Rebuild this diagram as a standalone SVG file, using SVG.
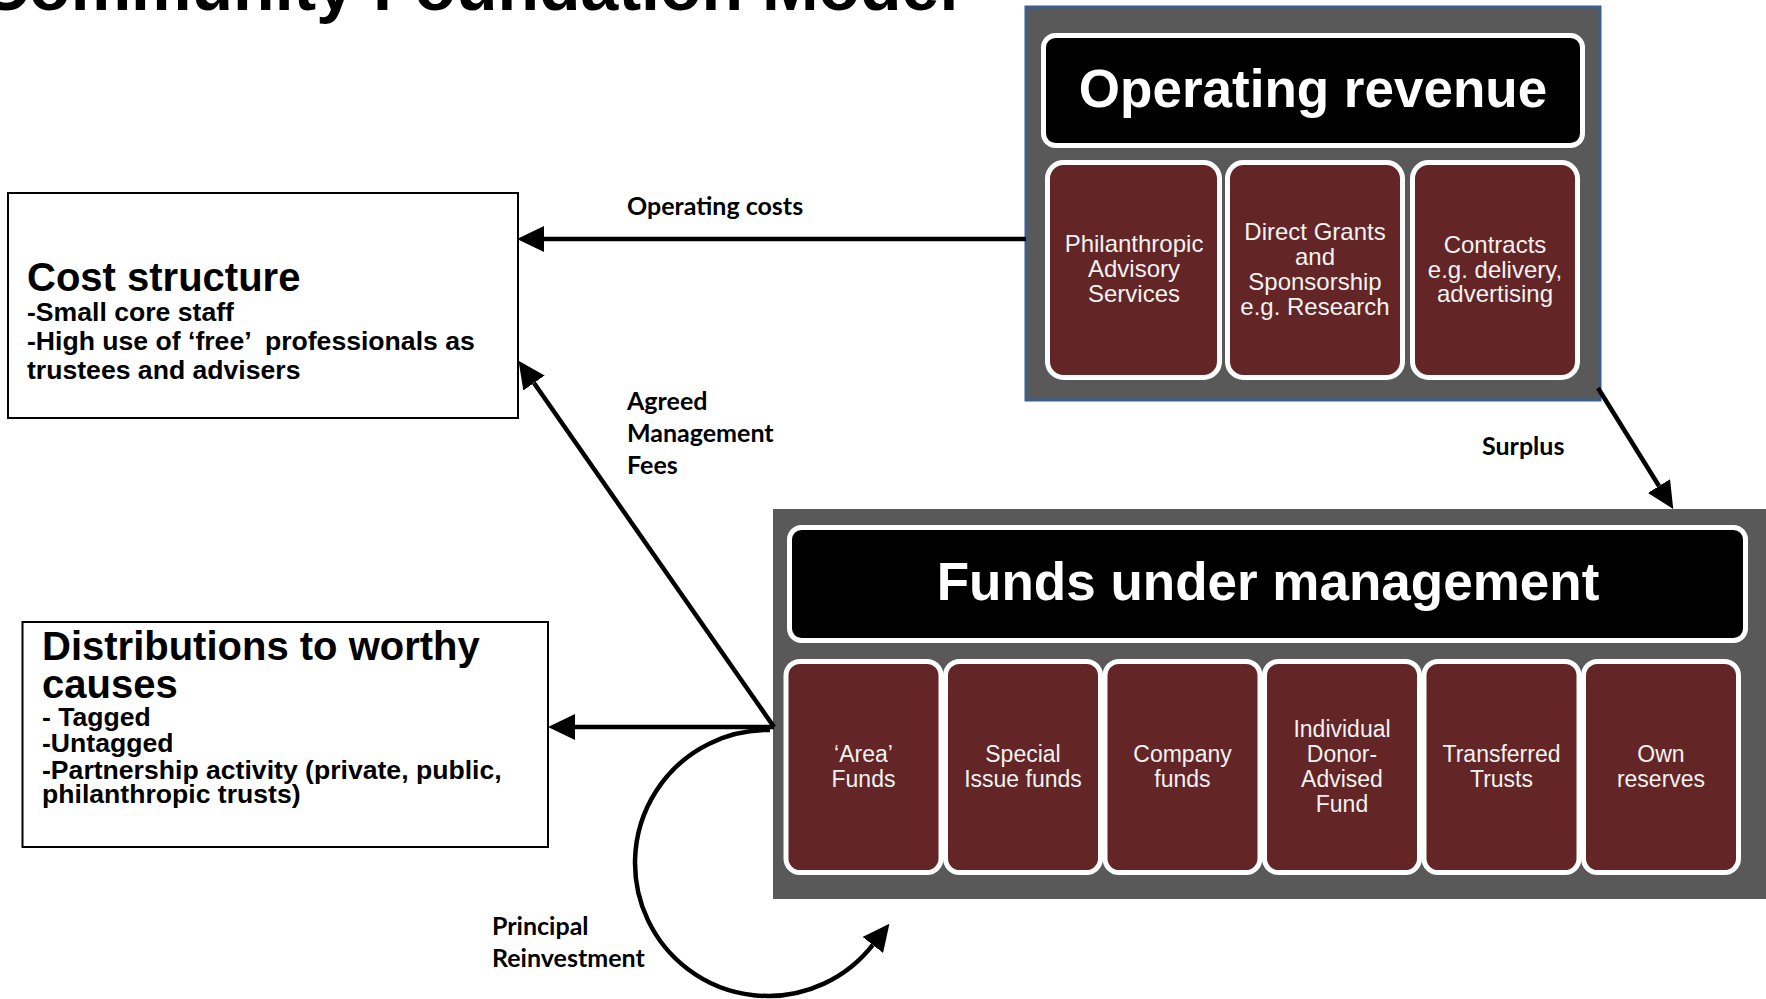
<svg xmlns="http://www.w3.org/2000/svg" width="1766" height="999" viewBox="0 0 1766 999">
  <style>
    .page { fill: #ffffff; }
    .panel { fill: #595959; }
    .panel-rev { fill: #595959; stroke: #3d5f8c; stroke-width: 3; }
    .head { fill: #000000; stroke: #ffffff; stroke-width: 5; }
    .cell { fill: #632525; stroke: #ffffff; stroke-width: 5; }
    .box { fill: #ffffff; stroke: #000000; stroke-width: 2; }
    .head-txt { font-family: "Liberation Sans", Arial, sans-serif; font-weight: bold; font-size: 53px; fill: #ffffff; text-anchor: middle; }
    .cell-txt { font-family: "Liberation Sans", Arial, sans-serif; font-size: 24px; fill: #f2f2f2; text-anchor: middle; }
    .cell-txt-s { font-family: "Liberation Sans", Arial, sans-serif; font-size: 23px; fill: #f2f2f2; text-anchor: middle; }
    .box-title { font-family: "Liberation Sans", Arial, sans-serif; font-weight: bold; font-size: 40px; fill: #000000; }
    .box-txt { font-family: "Liberation Sans", Arial, sans-serif; font-weight: bold; font-size: 26.6px; fill: #000000; }
    .lbl { font-family: Lato, "Open Sans", sans-serif; font-weight: bold; font-size: 25px; fill: #000000; }
    .title { font-family: "Liberation Sans", Arial, sans-serif; font-weight: bold; font-size: 68px; fill: #000000; }
    .conn { fill: none; stroke: #000000; stroke-width: 4.5; }
  </style>
  <defs>
    <marker id="arrow" markerUnits="userSpaceOnUse" viewBox="0 0 27 26" refX="0" refY="13" markerWidth="27" markerHeight="26" orient="auto">
      <path d="M0,0 L27,13 L0,26 Z" fill="#000000"/>
    </marker>
  </defs>

  <rect class="page" x="0" y="0" width="1766" height="999"/>

  <!-- slide title, running off the top edge -->
  <text class="title" x="-20" y="10">Community Foundation Model</text>

  <!-- Operating revenue panel -->
  <g id="operating-revenue">
    <rect class="panel-rev" x="1026" y="7" width="574" height="393"/>
    <rect class="head" x="1043.5" y="35.5" width="539" height="110" rx="12"/>
    <text class="head-txt" x="1313" y="107">Operating revenue</text>
  </g>
  <g id="rev-philanthropic">
    <rect class="cell" x="1047.5" y="162.5" width="172" height="215" rx="16"/>
    <text class="cell-txt" x="1134" y="252">Philanthropic</text>
    <text class="cell-txt" x="1134" y="277">Advisory</text>
    <text class="cell-txt" x="1134" y="302">Services</text>
  </g>
  <g id="rev-grants">
    <rect class="cell" x="1227.5" y="162.5" width="175" height="215" rx="16"/>
    <text class="cell-txt" x="1315" y="240">Direct Grants</text>
    <text class="cell-txt" x="1315" y="265">and</text>
    <text class="cell-txt" x="1315" y="290">Sponsorship</text>
    <text class="cell-txt" x="1315" y="315">e.g. Research</text>
  </g>
  <g id="rev-contracts">
    <rect class="cell" x="1412.5" y="162.5" width="165" height="215" rx="16"/>
    <text class="cell-txt" x="1495" y="253">Contracts</text>
    <text class="cell-txt" x="1495" y="278">e.g. delivery,</text>
    <text class="cell-txt" x="1495" y="302">advertising</text>
  </g>

  <!-- Funds under management panel -->
  <g id="funds">
    <rect class="panel" x="773" y="509" width="993" height="390"/>
    <rect class="head" x="789.5" y="527.5" width="956" height="113" rx="12"/>
    <text class="head-txt" x="1268" y="600">Funds under management</text>
  </g>
  <g id="fund-area">
    <rect class="cell" x="786" y="661.5" width="155" height="211" rx="14"/>
    <text class="cell-txt-s" x="863.5" y="762">‘Area’</text>
    <text class="cell-txt-s" x="863.5" y="787">Funds</text>
  </g>
  <g id="fund-special">
    <rect class="cell" x="945.5" y="661.5" width="155" height="211" rx="14"/>
    <text class="cell-txt-s" x="1023" y="762">Special</text>
    <text class="cell-txt-s" x="1023" y="787">Issue funds</text>
  </g>
  <g id="fund-company">
    <rect class="cell" x="1105" y="661.5" width="155" height="211" rx="14"/>
    <text class="cell-txt-s" x="1182.5" y="762">Company</text>
    <text class="cell-txt-s" x="1182.5" y="787">funds</text>
  </g>
  <g id="fund-donor">
    <rect class="cell" x="1264.5" y="661.5" width="155" height="211" rx="14"/>
    <text class="cell-txt-s" x="1342" y="737">Individual</text>
    <text class="cell-txt-s" x="1342" y="762">Donor-</text>
    <text class="cell-txt-s" x="1342" y="787">Advised</text>
    <text class="cell-txt-s" x="1342" y="812">Fund</text>
  </g>
  <g id="fund-trusts">
    <rect class="cell" x="1424" y="661.5" width="155" height="211" rx="14"/>
    <text class="cell-txt-s" x="1501.5" y="762">Transferred</text>
    <text class="cell-txt-s" x="1501.5" y="787">Trusts</text>
  </g>
  <g id="fund-reserves">
    <rect class="cell" x="1583.5" y="661.5" width="155" height="211" rx="14"/>
    <text class="cell-txt-s" x="1661" y="762">Own</text>
    <text class="cell-txt-s" x="1661" y="787">reserves</text>
  </g>

  <!-- Cost structure -->
  <g id="cost-structure">
    <rect class="box" x="8" y="193" width="510" height="225"/>
    <text class="box-title" x="27" y="291">Cost structure</text>
    <text class="box-txt" x="27" y="321">-Small core staff</text>
    <text class="box-txt" x="27" y="350" xml:space="preserve">-High use of ‘free’  professionals as</text>
    <text class="box-txt" x="27" y="379">trustees and advisers</text>
  </g>

  <!-- Distributions -->
  <g id="distributions">
    <rect class="box" x="22.5" y="622" width="525.5" height="225"/>
    <text class="box-title" x="42" y="660">Distributions to worthy</text>
    <text class="box-title" x="42" y="698">causes</text>
    <text class="box-txt" x="42" y="726">- Tagged</text>
    <text class="box-txt" x="42" y="752">-Untagged</text>
    <text class="box-txt" x="42" y="779">-Partnership activity (private, public,</text>
    <text class="box-txt" x="42" y="803">philanthropic trusts)</text>
  </g>

  <!-- flows between the blocks -->
  <g id="connectors">
    <path class="conn" d="M1026,239 L544,239" marker-end="url(#arrow)"/>
    <path class="conn" d="M774,727 L534,383" marker-end="url(#arrow)"/>
    <path class="conn" d="M774,727 L575,727" marker-end="url(#arrow)"/>
    <path class="conn" d="M1598,388 L1659,486" marker-end="url(#arrow)"/>
    <path class="conn" d="M770,730 A133,133 0 1 0 872.8,944.9" marker-end="url(#arrow)"/>
    <text class="lbl" x="627" y="215">Operating costs</text>
    <text class="lbl" x="627" y="410">Agreed</text>
    <text class="lbl" x="627" y="442">Management</text>
    <text class="lbl" x="627" y="474">Fees</text>
    <text class="lbl" x="1482" y="455">Surplus</text>
    <text class="lbl" x="492" y="935">Principal</text>
    <text class="lbl" x="492" y="967">Reinvestment</text>
  </g>
</svg>
